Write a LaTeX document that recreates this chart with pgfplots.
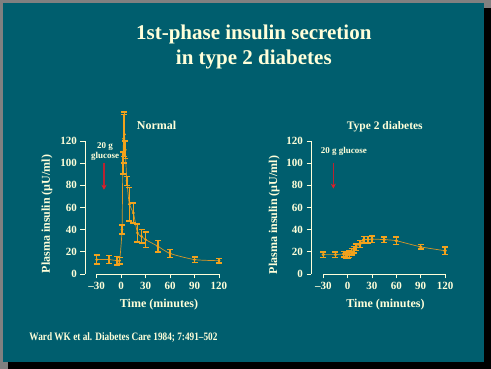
\documentclass[border=0pt]{standalone}
\usepackage{fontspec}
\setmainfont{Liberation Serif}
\newfontfamily\condfont[FakeStretch=0.82]{Liberation Serif}
\usepackage{pgfplots}
\pgfplotsset{compat=1.18}
\usetikzlibrary{arrows.meta}
\definecolor{bgteal}{RGB}{0,94,110}
\definecolor{bordergray}{RGB}{128,128,128}
\definecolor{cream}{RGB}{255,255,218}
\definecolor{dorange}{RGB}{242,162,28}
\definecolor{lorange}{RGB}{214,150,40}
\definecolor{arrowred}{RGB}{185,35,50}
\definecolor{headred}{RGB}{225,30,40}

\pgfplotstableread{
t v e
-30 13 4
-15 13 3.5
-5 12 4
-2 12 3
1 40 4
2 100 10
3 122 22
4 126 20
5 112 8
7 84 4
10 63 15
15 55 9
20 37 8
25 34 6
30 31 7
45 25 5
60 18.5 3.5
90 13 2.5
120 12 2
}\normaldata

\pgfplotstableread{
t v e
-30 17.5 2.5
-15 17.5 2.5
-5 18 2.5
-2 17 2.5
0 17 3
2 18 3
5 20 3
8 22 3
10 24 3
15 27 3
20 31 3
25 31 3
30 31.5 3
45 31 2.5
60 30 3.5
90 24.5 2
120 21 3.5
}\typetwodata

\pgfplotsset{panel/.style={
  scale only axis, width=134pt, height=133pt,
  xmax=120, ymin=0, ymax=120,
  axis x line*=bottom, axis y line*=left,
  axis line style={draw=none},
  xtick={-30,0,30,60,90,120},
  xticklabels={–30,0,30,60,90,120},
  ytick={0,20,40,60,80,100,120},
  tick style={cream, line width=0.8pt},
  tick align=outside, major tick length=4.5pt,
  ticklabel style={font=\bfseries\fontsize{11}{11}\selectfont, text=cream},
  /pgf/number format/assume math mode=true,
  clip=false,
}}

\begin{document}
\begin{tikzpicture}[x=1pt,y=1pt]
\useasboundingbox (0,0) rectangle (491,369);
\fill[bordergray] (0,0) rectangle (491,369);
\fill[black] (8,0) rectangle (491,361);
\fill[bgteal] (3,7) rectangle (484,366);

\node[anchor=base, text=cream, font=\bfseries\fontsize{21}{21}\selectfont, inner sep=0] at (253.8,329.7) {1st-phase insulin secretion};
\node[anchor=base, text=cream, font=\bfseries\fontsize{21}{21}\selectfont, inner sep=0] at (253.8,304) {in type 2 diabetes};

% Left panel
\begin{axis}[panel, at={(85pt,95pt)}, anchor=south west, xmin=-44.4]
\draw[cream, line width=0.8pt] (axis cs:-30,0) -- (axis cs:120,0);
\draw[cream, line width=0.8pt] (rel axis cs:0,0) -- (rel axis cs:0,1);
\addplot[lorange, line width=0.7pt, smooth, tension=0.4, mark=*, mark size=1pt, mark options={draw=dorange, fill=dorange},
  error bars/.cd, y dir=both, y explicit,
  error bar style={draw=dorange, line width=1.5pt},
  error mark options={rotate=90, draw=dorange, mark size=3pt, line width=1.5pt}]
  table[x=t, y=v, y error=e] {\normaldata};
\draw[arrowred, line width=1.5pt, -{Stealth[length=5pt,width=5pt,color=headred]}] (axis cs:-21.1,100) -- (axis cs:-21.1,76);
\end{axis}

% Right panel
\begin{axis}[panel, at={(311pt,95pt)}, anchor=south west, xmin=-45.2]
\draw[cream, line width=0.8pt] (axis cs:-30,0) -- (axis cs:120,0);
\draw[cream, line width=0.8pt] (rel axis cs:0,0) -- (rel axis cs:0,1);
\addplot[lorange, line width=0.7pt, smooth, tension=0.4, mark=*, mark size=1.3pt, mark options={draw=dorange, fill=dorange},
  error bars/.cd, y dir=both, y explicit,
  error bar style={draw=dorange, line width=1.5pt},
  error mark options={rotate=90, draw=dorange, mark size=3pt, line width=1.5pt}]
  table[x=t, y=v, y error=e] {\typetwodata};
\draw[arrowred, line width=1.5pt, -{Stealth[length=5pt,width=5pt,color=headred]}] (axis cs:-17.6,100) -- (axis cs:-17.6,77);
\end{axis}

% Panel texts
\node[anchor=base west, text=cream, font=\bfseries\fontsize{12}{12}\selectfont, inner sep=0] at (136.7,239) {Normal};
\node[anchor=base west, text=cream, font=\bfseries\fontsize{11.5}{11.5}\selectfont, inner sep=0] at (346.7,239) {Type 2 diabetes};
\node[anchor=base, text=cream, font=\bfseries\fontsize{9}{9}\selectfont, inner sep=0] at (105,220.7) {20 g};
\node[anchor=base, text=cream, font=\bfseries\fontsize{9}{9}\selectfont, inner sep=0] at (105,210) {glucose};
\node[anchor=base west, text=cream, font=\bfseries\fontsize{9}{9}\selectfont, inner sep=0] at (320.7,215) {20 g glucose};

% Axis labels
\node[rotate=90, anchor=base, text=cream, font=\bfseries\fontsize{12}{12}\selectfont, inner sep=0] at (50,155) {Plasma insulin (µU/ml)};
\node[rotate=90, anchor=base, text=cream, font=\bfseries\fontsize{12}{12}\selectfont, inner sep=0] at (277,154) {Plasma insulin (µU/ml)};
\node[anchor=base, text=cream, font=\bfseries\fontsize{12}{12}\selectfont, inner sep=0] at (159,61) {Time (minutes)};
\node[anchor=base, text=cream, font=\bfseries\fontsize{12}{12}\selectfont, inner sep=0] at (385.5,61) {Time (minutes)};

% Citation
\node[anchor=base west, text=cream, font=\condfont\bfseries\fontsize{11.3}{11.3}\selectfont, inner sep=0] at (29.3,28.3) {Ward WK et al. Diabetes Care 1984; 7:491–502};
\end{tikzpicture}
\end{document}
